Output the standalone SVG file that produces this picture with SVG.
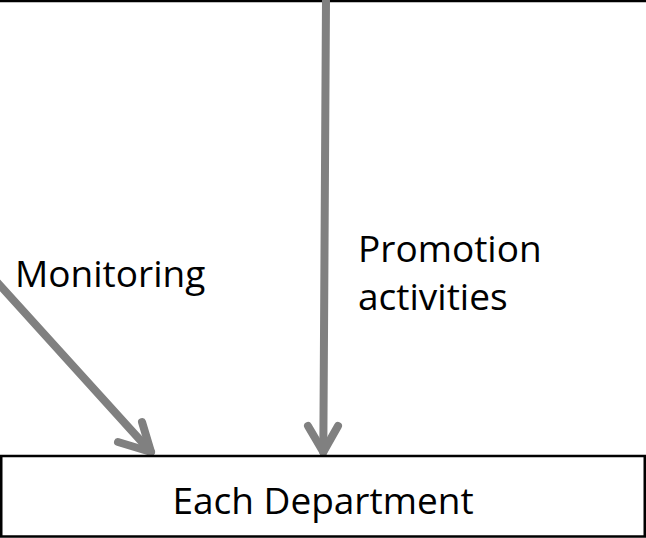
<svg xmlns="http://www.w3.org/2000/svg" width="646" height="538" viewBox="0 0 646 538">
<style>
.lbl{font-family:"Open Sans","Noto Sans","Liberation Sans",sans-serif;font-size:37px;fill:#000}
.conn{stroke:#808080;stroke-width:8;fill:none;stroke-linecap:round;stroke-linejoin:round}
.box{fill:#fff;stroke:#000;stroke-width:2.5}
</style>
<g id="top-node">
<line x1="0" y1="1" x2="646" y2="1" stroke="#000" stroke-width="2.5"/>
</g>
<g id="connectors">
<path class="conn" d="M326,0 L323.3,452"/>
<path class="conn" d="M308,426 L323.3,452 L338,426"/>
<path class="conn" d="M-4,281 L151,452"/>
<path class="conn" d="M118,442 L151,452 L142,422"/>
</g>
<g id="labels">
<text class="lbl" x="15" y="287">Monitoring</text>
<text class="lbl" x="358" y="262">Promotion</text>
<text class="lbl" x="358" y="310">activities</text>
</g>
<g id="each-department">
<rect class="box" x="1.25" y="456" width="643.5" height="80.5"/>
<text class="lbl" x="323" y="514" text-anchor="middle">Each Department</text>
</g>
</svg>
